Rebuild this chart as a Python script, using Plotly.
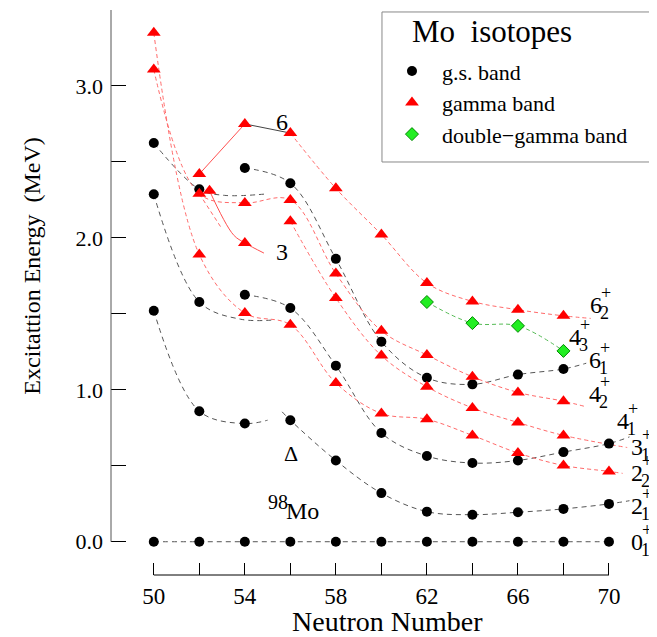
import plotly.graph_objects as go

# ---------------- data ----------------
# ground-state band (black circles)
N_gs = [50, 52, 54, 56, 58, 60, 62, 64, 66, 68, 70]
E_gs0 = [0.0, 0.0, 0.0, 0.0, 0.0, 0.0, 0.0, 0.0, 0.0, 0.0, 0.0]
E_gs2 = [1.520, 0.859, 0.778, 0.800, 0.535, 0.320, 0.198, 0.178, 0.194, 0.216, 0.249]
E_gs4 = [2.287, 1.578, 1.626, 1.538, 1.159, 0.716, 0.564, 0.518, 0.535, 0.590, 0.646]
N_gs6 = [50, 52, 54, 56, 58, 60, 62, 64, 66, 68]
E_gs6 = [2.624, 2.320, 2.460, 2.360, 1.862, 1.317, 1.079, 1.036, 1.100, 1.137]

# gamma band (red triangles)
N_g2 = [50, 52, 54, 56, 58, 60, 62, 64, 66, 68, 70]
E_g2 = [3.350, 1.890, 1.505, 1.428, 1.045, 0.844, 0.806, 0.700, 0.584, 0.502, 0.463]
N_g4 = [50, 52, 54, 56, 58, 60, 62, 64, 66, 68]
E_g4 = [3.108, 2.290, 2.230, 2.250, 1.765, 1.388, 1.229, 1.086, 0.983, 0.925]
N_g3 = [56, 58, 60, 62, 64, 66, 68]
E_g3 = [2.110, 1.604, 1.225, 1.020, 0.881, 0.785, 0.700]
N_g6 = [56, 58, 60, 62, 64, 66, 68]
E_g6 = [2.690, 2.326, 2.022, 1.703, 1.582, 1.527, 1.487]
# extra gamma-band states (the "6" and "3" systematics)
N_gx6 = [52, 54]
E_gx6 = [2.420, 2.750]
N_gx3 = [52.45, 54]
E_gx3 = [2.310, 1.967]

# double-gamma band (green diamonds)
N_gg = [62, 64, 66, 68]
E_gg = [1.578, 1.439, 1.421, 1.256]

# curve end pieces (N, E)
gs2_tail_a = ([55.0], [0.80])
gs2_head_b = ([55.64], [0.855])
gs2_tail_b = ([70.9], [0.27])
gs4_tail_a = ([53.8, 55.3], [1.465, 1.46])
gs4_tail_b = ([70.9], [0.69])
gs6_tail_a = ([53.1, 55.0], [2.28, 2.29])
gs6_tail_b = ([69.0], [1.175])
g2_tail = ([70.6], [0.45])
g4_tail = ([69.0], [0.888])
g3_stub = ([52, 52.95], [2.29, 2.07])
g3_tail = ([70.8], [0.62])
g6_tail = ([69.2], [1.47])
x3_curve_mid = ([53.5], [2.02])
x3_curve_end = ([54.84], [1.90])

# state labels: (spin, index, N, E)
state_labels = [
    ("6", "2", 69.43, 1.560),
    ("4", "3", 68.51, 1.348),
    ("6", "1", 69.39, 1.196),
    ("4", "2", 69.39, 0.972),
    ("4", "1", 70.63, 0.795),
    ("3", "1", 71.24, 0.623),
    ("2", "2", 71.24, 0.451),
    ("2", "1", 71.24, 0.238),
    ("0", "1", 71.24, -0.005),
]

x_tickvals = [50, 52, 54, 56, 58, 60, 62, 64, 66, 68, 70]
x_ticktext = ["50", "", "54", "", "58", "", "62", "", "66", "", "70"]
y_tickvals = [0.0, 0.5, 1.0, 1.5, 2.0, 2.5, 3.0]
y_ticktext = ["0.0", "", "1.0", "", "2.0", "", "3.0"]

# ---------------- figure ----------------
FONT = "Liberation Serif, Times New Roman, serif"
BLACK_LINE = "#555555"
RED_LINE = "#ff6a6a"
GREEN_LINE = "#55bb55"

fig = go.Figure()


def curve(xs, ys, color, dash, width=1.0):
    fig.add_trace(go.Scatter(
        x=xs, y=ys, mode="lines", showlegend=False, hoverinfo="skip",
        line=dict(color=color, width=width, dash=dash, shape="spline", smoothing=1.0),
    ))


# black dashed curves
curve(N_gs, E_gs0, BLACK_LINE, "5px,4px")
curve(N_gs[:3] + gs2_tail_a[0], E_gs2[:3] + gs2_tail_a[1], BLACK_LINE, "5px,4px")
curve(gs2_head_b[0] + N_gs[3:] + gs2_tail_b[0], gs2_head_b[1] + E_gs2[3:] + gs2_tail_b[1], BLACK_LINE, "5px,4px")
curve(N_gs[:2] + gs4_tail_a[0], E_gs4[:2] + gs4_tail_a[1], BLACK_LINE, "5px,4px")
curve(N_gs[2:] + gs4_tail_b[0], E_gs4[2:] + gs4_tail_b[1], BLACK_LINE, "5px,4px")
curve(N_gs6[:2] + gs6_tail_a[0], E_gs6[:2] + gs6_tail_a[1], BLACK_LINE, "5px,4px")
curve(N_gs6[2:] + gs6_tail_b[0], E_gs6[2:] + gs6_tail_b[1], BLACK_LINE, "5px,4px")

# red dashed curves
curve(N_g2 + g2_tail[0], E_g2 + g2_tail[1], RED_LINE, "4px,3px")
curve(N_g4 + g4_tail[0], E_g4 + g4_tail[1], RED_LINE, "4px,3px")
curve(g3_stub[0], g3_stub[1], RED_LINE, "4px,3px")
curve(N_g3 + g3_tail[0], E_g3 + g3_tail[1], RED_LINE, "4px,3px")
curve(N_g6 + g6_tail[0], E_g6 + g6_tail[1], RED_LINE, "4px,3px")

# green dashed curve
curve(N_gg, E_gg, GREEN_LINE, "4px,3px")

# solid "6" and "3" systematics
curve(N_gx6, E_gx6, "#ff5050", "solid")
curve([N_gx6[1], N_g6[0]], [E_gx6[1], E_g6[0]], "#444444", "solid")
curve([N_gx3[0]] + x3_curve_mid[0] + [N_gx3[1]] + x3_curve_end[0],
      [E_gx3[0]] + x3_curve_mid[1] + [E_gx3[1]] + x3_curve_end[1], "#ff5050", "solid")

# markers
gs_x = N_gs + N_gs + N_gs + N_gs6
gs_y = E_gs0 + E_gs2 + E_gs4 + E_gs6
fig.add_trace(go.Scatter(x=gs_x, y=gs_y, mode="markers", name="g.s. band",
                         marker=dict(symbol="circle", size=10, color="black")))
g_x = N_g2 + N_g4 + N_g3 + N_g6 + N_gx6 + N_gx3
g_y = E_g2 + E_g4 + E_g3 + E_g6 + E_gx6 + E_gx3
fig.add_trace(go.Scatter(x=g_x, y=g_y, mode="markers", name="gamma band",
                         marker=dict(symbol="triangle-up", size=12, color="#ff0000")))
fig.add_trace(go.Scatter(x=N_gg, y=E_gg, mode="markers", name="double\u2212gamma band",
                         marker=dict(symbol="diamond", size=10, color="#22ee22",
                                     line=dict(color="#008800", width=1))))

annotations = []
for spin, idx, n, e in state_labels:
    annotations.append(dict(x=n, y=e, text=spin, showarrow=False, xref="x", yref="y",
                            xanchor="center", yanchor="middle",
                            font=dict(family=FONT, size=24, color="black")))
    annotations.append(dict(x=n, y=e, text="+", showarrow=False, xref="x", yref="y",
                            xanchor="center", yanchor="middle",
                            xshift=10, yshift=12, font=dict(family=FONT, size=18, color="black")))
    annotations.append(dict(x=n, y=e, text=idx, showarrow=False, xref="x", yref="y",
                            xanchor="center", yanchor="middle",
                            xshift=8, yshift=-8, font=dict(family=FONT, size=18, color="black")))

annotations += [
    dict(x=55.63, y=2.762, text="6", showarrow=False, xanchor="center", yanchor="middle",
         font=dict(family=FONT, size=24, color="black")),
    dict(x=55.62, y=1.910, text="3", showarrow=False, xanchor="center", yanchor="middle",
         font=dict(family=FONT, size=24, color="black")),
    dict(x=56.03, y=0.579, text="\u0394", showarrow=False, xanchor="center", yanchor="middle",
         font=dict(family=FONT, size=22, color="black")),
    dict(x=55.47, y=0.260, text="98", showarrow=False, xanchor="center", yanchor="middle",
         font=dict(family=FONT, size=20, color="black")),
    dict(x=56.55, y=0.202, text="Mo", showarrow=False, xanchor="center", yanchor="middle",
         font=dict(family=FONT, size=24, color="black")),
    dict(x=-0.145, y=1.816, xref="paper", yref="y", text="Excitattion Energy\u00a0\u00a0(MeV)",
         textangle=-90, showarrow=False, xanchor="center", yanchor="middle",
         font=dict(family=FONT, size=24, color="black")),
    dict(x=60.25, y=0, xref="x", yref="paper", yshift=-46, text="Neutron Number",
         showarrow=False, xanchor="center", yanchor="middle",
         font=dict(family=FONT, size=28, color="black")),
    # legend title
    dict(x=0.6969, y=0.9628, xref="paper", yref="paper", text="Mo\u00a0\u00a0isotopes",
         showarrow=False, xanchor="center", yanchor="middle",
         font=dict(family=FONT, size=31, color="black")),
]

shapes = [
    dict(type="line", xref="paper", yref="y", x0=0, x1=0, y0=0, y1=3.5,
         line=dict(color="#555555", width=1)),
    dict(type="line", xref="x", yref="paper", x0=50, x1=70, y0=0, y1=0,
         line=dict(color="black", width=1)),
    # legend frame
    dict(type="rect", xref="paper", yref="paper", x0=0.4963, x1=0.9963, y0=0.731, y1=0.9965,
         line=dict(color="#888888", width=1), fillcolor="white", layer="below"),
]

fig.update_layout(
    width=649, height=629,
    margin=dict(l=103, r=0, t=2, b=62),
    paper_bgcolor="white", plot_bgcolor="white",
    font=dict(family=FONT, color="black"),
    showlegend=True,
    legend=dict(x=0.4963, y=0.929, xanchor="left", yanchor="top",
                bgcolor="rgba(0,0,0,0)", borderwidth=0,
                itemwidth=50,
                font=dict(family=FONT, size=22), traceorder="normal"),
    annotations=annotations,
    shapes=shapes,
    xaxis=dict(range=[48.12, 72.11], tickvals=x_tickvals, ticktext=x_ticktext,
               ticks="inside", ticklen=12, tickcolor="black", showline=False,
               showgrid=False, zeroline=False, tickfont=dict(family=FONT, size=23),
               ticklabelstandoff=5),
    yaxis=dict(range=[-0.219, 3.5], tickvals=y_tickvals, ticktext=y_ticktext,
               ticks="inside", ticklen=15, tickcolor="black", showline=False,
               showgrid=False, zeroline=False, tickfont=dict(family=FONT, size=22),
               ticklabelstandoff=7),
)

fig.write_html("out.html")
